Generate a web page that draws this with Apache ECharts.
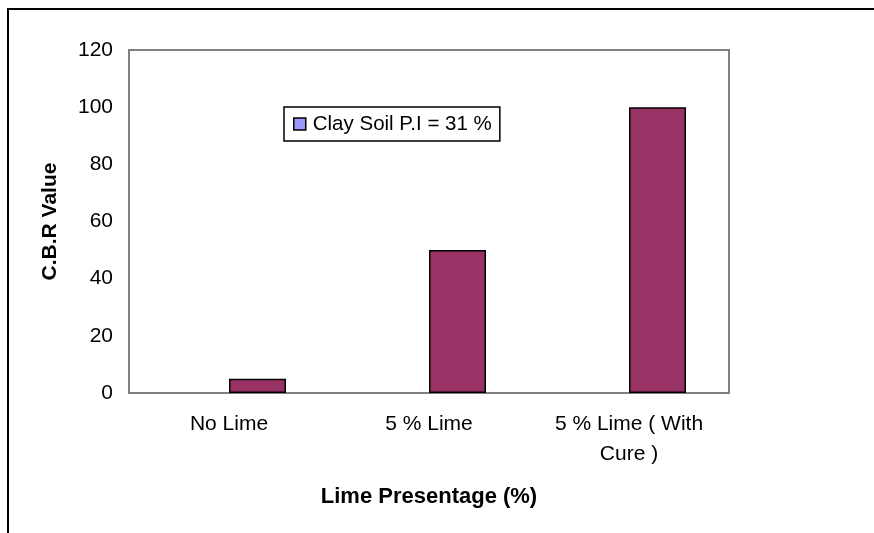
<!DOCTYPE html>
<html>
<head>
<meta charset="utf-8">
<script src="https://cdn.jsdelivr.net/npm/echarts@6/dist/echarts.min.js"></script>
<style>
html,body{margin:0;padding:0;background:#fff;}
#chart{width:874px;height:533px;}
</style>
</head>
<body>
<div id="chart"></div>
<script>
const categories = ['No Lime', '5 % Lime', '5 % Lime ( With\nCure )'];
const legendSeriesName = 'Clay Soil P.I = 31 %';
const legendSeriesValues = ['-', '-', '-'];
const cbrValues = [5, 50, 100];
const yTicks = { min: 0, max: 120, interval: 20 };

const chart = echarts.init(document.getElementById('chart'), null, { renderer: 'canvas' });
const font = 'Liberation Sans, Arial, sans-serif';
chart.setOption({
  animation: false,
  backgroundColor: '#fff',
  textStyle: { fontFamily: font },
  graphic: [{
    type: 'rect',
    shape: { x: 8, y: 9, width: 900, height: 560 },
    style: { fill: 'none', stroke: '#000', lineWidth: 2 },
    silent: true
  }],
  grid: {
    left: 129, right: 145, top: 50, bottom: 140,
    show: true, borderColor: '#808080', borderWidth: 2, backgroundColor: 'transparent'
  },
  legend: {
    show: true,
    data: [legendSeriesName],
    left: 284, top: 107,
    orient: 'horizontal',
    backgroundColor: '#fff',
    borderColor: '#000', borderWidth: 1.5,
    padding: [6, 8, 6, 9],
    itemWidth: 12, itemHeight: 12, itemGap: 7,
    icon: 'rect',
    itemStyle: { color: '#9999FF', borderColor: '#000', borderWidth: 1.5 },
    textStyle: { fontSize: 20.5, lineHeight: 22, color: '#000', fontFamily: font, padding: [0, 0, 0, 2] }
  },
  xAxis: {
    type: 'category',
    data: categories,
    name: 'Lime Presentage (%)',
    nameLocation: 'middle',
    nameGap: 93,
    nameTextStyle: { fontSize: 22, fontWeight: 'bold', color: '#000', fontFamily: font },
    axisLine: { show: false },
    axisTick: { show: false },
    axisLabel: { fontSize: 21, color: '#000', margin: 16, lineHeight: 30, interval: 0, fontFamily: font },
    splitLine: { show: false }
  },
  yAxis: {
    type: 'value',
    min: yTicks.min, max: yTicks.max, interval: yTicks.interval,
    name: 'C.B.R Value',
    nameLocation: 'middle',
    nameGap: 68,
    nameTextStyle: { fontSize: 21, fontWeight: 'bold', color: '#000', fontFamily: font },
    axisLine: { show: false },
    axisTick: { show: false },
    axisLabel: { fontSize: 21, color: '#000', margin: 16, fontFamily: font },
    splitLine: { show: false }
  },
  series: [
    {
      name: legendSeriesName,
      type: 'bar',
      data: legendSeriesValues,
      barGap: '0%',
      barCategoryGap: '43%',
      itemStyle: { color: '#9999FF', borderColor: '#000', borderWidth: 1.5 }
    },
    {
      name: 'CBR',
      type: 'bar',
      data: cbrValues,
      barGap: '0%',
      barCategoryGap: '43%',
      itemStyle: { color: '#993366', borderColor: '#000', borderWidth: 1.5 }
    }
  ]
});
</script>
</body>
</html>
